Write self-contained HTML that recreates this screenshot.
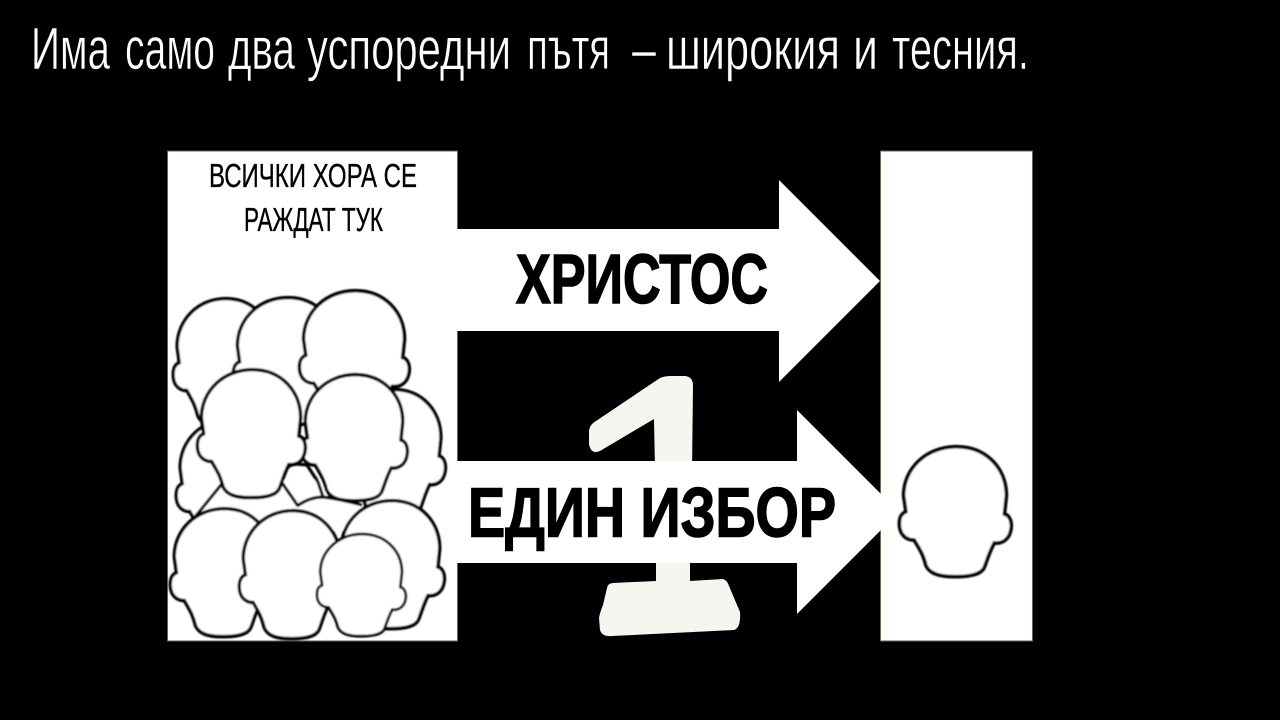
<!DOCTYPE html>
<html lang="bg"><head><meta charset="utf-8"><title>Два пътя</title>
<style>html,body{margin:0;padding:0;background:#000;width:1280px;height:720px;overflow:hidden}svg{display:block}
text{font-family:"Liberation Sans",sans-serif}
.t{font-size:59px;fill:#fff;stroke:#000;stroke-width:.6px}.s{font-size:33px;fill:#000;stroke:#000;stroke-width:.35px}.b{font-size:70px;font-weight:bold;fill:#000;stroke:#000;stroke-width:1.6px}</style></head>
<body>
<svg width="1280" height="720" viewBox="0 0 1280 720" xmlns="http://www.w3.org/2000/svg">
<defs>
<symbol id="h" viewBox="50 40 355 405" preserveAspectRatio="none">
<path d="M230 48C320 48 382 112 382 195L376 250C395 255 400 280 395 300C390 325 370 340 345 337C330 365 325 385 315 410C305 432 270 438 225 438C180 438 150 430 138 405C130 375 125 365 102 328C80 328 62 315 58 290C55 265 60 250 77 243L70 195C70 112 140 48 230 48Z" fill="#fff" stroke="#000" stroke-width="11"/>
</symbol>
<filter id="f" x="-5%" y="-5%" width="110%" height="110%"><feGaussianBlur stdDeviation="0.75"/></filter>
</defs>
<rect width="1280" height="720" fill="#000"/>
<g>
<text class="t" x="31" y="69" textLength="79" lengthAdjust="spacingAndGlyphs">Има</text>
<text class="t" x="125" y="69" textLength="90" lengthAdjust="spacingAndGlyphs">само</text>
<text class="t" x="228" y="69" textLength="67" lengthAdjust="spacingAndGlyphs">два</text>
<text class="t" x="307" y="69" textLength="204" lengthAdjust="spacingAndGlyphs">успоредни</text>
<text class="t" x="527" y="69" textLength="83" lengthAdjust="spacingAndGlyphs">пътя</text>
<text class="t" x="632" y="69" textLength="24" lengthAdjust="spacingAndGlyphs">–</text>
<text class="t" x="666" y="69" textLength="174" lengthAdjust="spacingAndGlyphs">широкия</text>
<text class="t" x="853" y="69" textLength="25" lengthAdjust="spacingAndGlyphs">и</text>
<text class="t" x="892" y="69" textLength="137" lengthAdjust="spacingAndGlyphs">тесния.</text>
</g>
<!-- number 1 -->
<path d="M660 378Q664 376 672 376L685 376Q693 377 693 385L692 470L655 470L654 419L600 451Q591 455 589 444L589 432Q589 425 596 421Z" fill="#f6f5ef"/>
<path d="M656 560H690V581L723 579Q727 580 729 586L740 612Q741 628 734 630L612 636Q602 637 600 630L599 618Q600 612 603 605L607 588Q608 583 613 583L656 581Z" fill="#f6f5ef"/>
<!-- boxes -->
<rect x="167.5" y="151" width="290" height="490" fill="#fff" stroke="#6d6552" stroke-width="1"/>
<rect x="880.5" y="151" width="152" height="490" fill="#fff" stroke="#6d6552" stroke-width="1"/>
<!-- arrows -->
<polygon points="457,229 779,229 779,180 880,281 779,382 779,331 457,331" fill="#fff"/>
<polygon points="457,461 797,461 797,410 899,512 797,614 797,563 457,563" fill="#fff"/>
<text class="s" x="209" y="187" textLength="208" lengthAdjust="spacingAndGlyphs">ВСИЧКИ ХОРА СЕ</text>
<text class="s" x="244" y="231" textLength="139" lengthAdjust="spacingAndGlyphs">РАЖДАТ ТУК</text>
<text class="b" x="516" y="303" textLength="252" lengthAdjust="spacingAndGlyphs">ХРИСТОС</text>
<text class="b" x="468" y="536.5" textLength="368" lengthAdjust="spacingAndGlyphs">ЕДИН ИЗБОР</text>
<!-- heads -->
<g filter="url(#f)">
<use href="#h" x="339" y="387" width="109" height="133"/>
<use href="#h" x="174" y="417" width="108" height="133"/>
<path d="M205 512L225 480H320L328 498L362 502V530H205Z" fill="#fff"/>
<path d="M195 517L225 480M280 480L298 506M285 472Q288 464 297 464L307 465L318 482L323 497M297 506Q310 497 323 497Q340 499 362 505" fill="none" stroke="#000" stroke-width="3.2"/>
<use href="#h" x="171" y="296" width="108" height="133"/>
<use href="#h" x="231" y="295" width="112" height="133"/>
<use href="#h" x="297" y="288" width="115" height="134"/>
<use href="#h" x="335" y="498" width="112" height="133"/>
<use href="#h" x="299" y="372" width="111" height="131"/>
<use href="#h" x="195" y="367" width="113" height="133"/>
<use href="#h" x="168" y="506" width="111" height="133"/>
<use href="#h" x="237" y="508" width="110" height="133"/>
<use href="#h" x="315" y="532" width="93" height="106"/>
<use href="#h" x="897" y="444" width="117" height="135"/>
</g>
</svg>
</body></html>
